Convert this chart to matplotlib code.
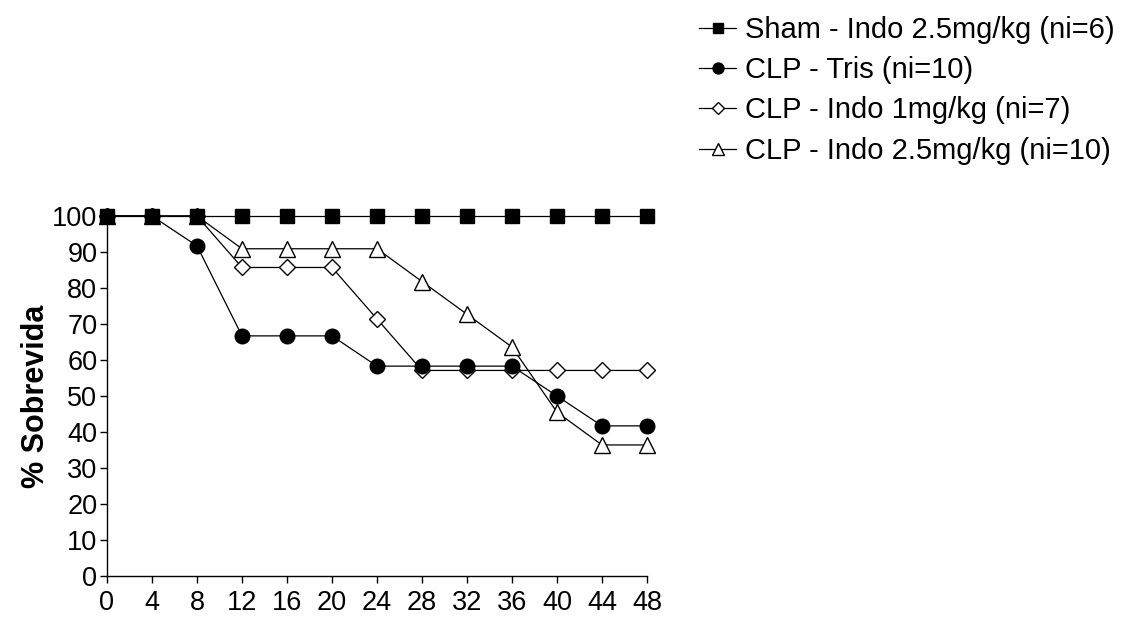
import matplotlib.pyplot as plt

plt.rcParams['font.family'] = ['Liberation Sans', 'DejaVu Sans']

# survival over time (hours)
horas = [0, 4, 8, 12, 16, 20, 24, 28, 32, 36, 40, 44, 48]
sham_indo25 = [100, 100, 100, 100, 100, 100, 100, 100, 100, 100, 100, 100, 100]
clp_tris = [100, 100, 91.7, 66.7, 66.7, 66.7, 58.3, 58.3, 58.3, 58.3, 50.0, 41.7, 41.7]
clp_indo1 = [100, 100, 100, 85.7, 85.7, 85.7, 71.4, 57.1, 57.1, 57.1, 57.1, 57.1, 57.1]
clp_indo25 = [100, 100, 100, 90.9, 90.9, 90.9, 90.9, 81.8, 72.7, 63.6, 45.5, 36.4, 36.4]

labels = ["Sham - Indo 2.5mg/kg (ni=6)", "CLP - Tris (ni=10)",
          "CLP - Indo 1mg/kg (ni=7)", "CLP - Indo 2.5mg/kg (ni=10)"]

fig = plt.figure(figsize=(11.27, 6.17), dpi=100)
ax = fig.add_axes([107 / 1127, 41 / 617, 540 / 1127, 360 / 617])

common = dict(color='black', lw=0.9, markeredgecolor='black', clip_on=False)
l4, = ax.plot(horas, clp_indo25, marker='^', ms=11, markerfacecolor='white',
              markeredgewidth=1.0, zorder=3, **common)
l3, = ax.plot(horas, clp_indo1, marker='D', ms=8, markerfacecolor='white',
              markeredgewidth=1.0, zorder=4, **common)
l2, = ax.plot(horas, clp_tris, marker='o', ms=10.5, markerfacecolor='black',
              zorder=5, **common)
l1, = ax.plot(horas, sham_indo25, marker='s', ms=10, markerfacecolor='black',
              zorder=6, **common)

ax.set_xlim(0, 48)
ax.set_ylim(0, 100)
ax.set_xticks(horas)
ax.set_yticks(range(0, 101, 10))
ax.tick_params(labelsize=19.5, length=5, width=1, direction='out', pad=2)
ax.tick_params(axis='x', pad=5)
for side in ['top', 'right']:
    ax.spines[side].set_visible(False)
for side in ['left', 'bottom']:
    ax.spines[side].set_linewidth(1)

ax.set_ylabel('% Sobrevida', fontsize=22, fontweight='bold', labelpad=1)

# legend handles with smaller markers, drawn in the reading order
handles = []
for line in [l1, l2, l3, l4]:
    h, = ax.plot([], [], color='black', lw=0.9, marker=line.get_marker(),
                 ms=line.get_markersize() * 0.75,
                 markerfacecolor=line.get_markerfacecolor(),
                 markeredgecolor='black')
    handles.append(h)

fig.legend(handles, labels, loc='upper left',
           bbox_to_anchor=(699 / 1127, 1 - 16 / 617), frameon=False,
           fontsize=21, handlelength=1.27, handletextpad=0.3,
           labelspacing=0.42, borderaxespad=0, borderpad=0)

fig.savefig('out.png', dpi=100)
